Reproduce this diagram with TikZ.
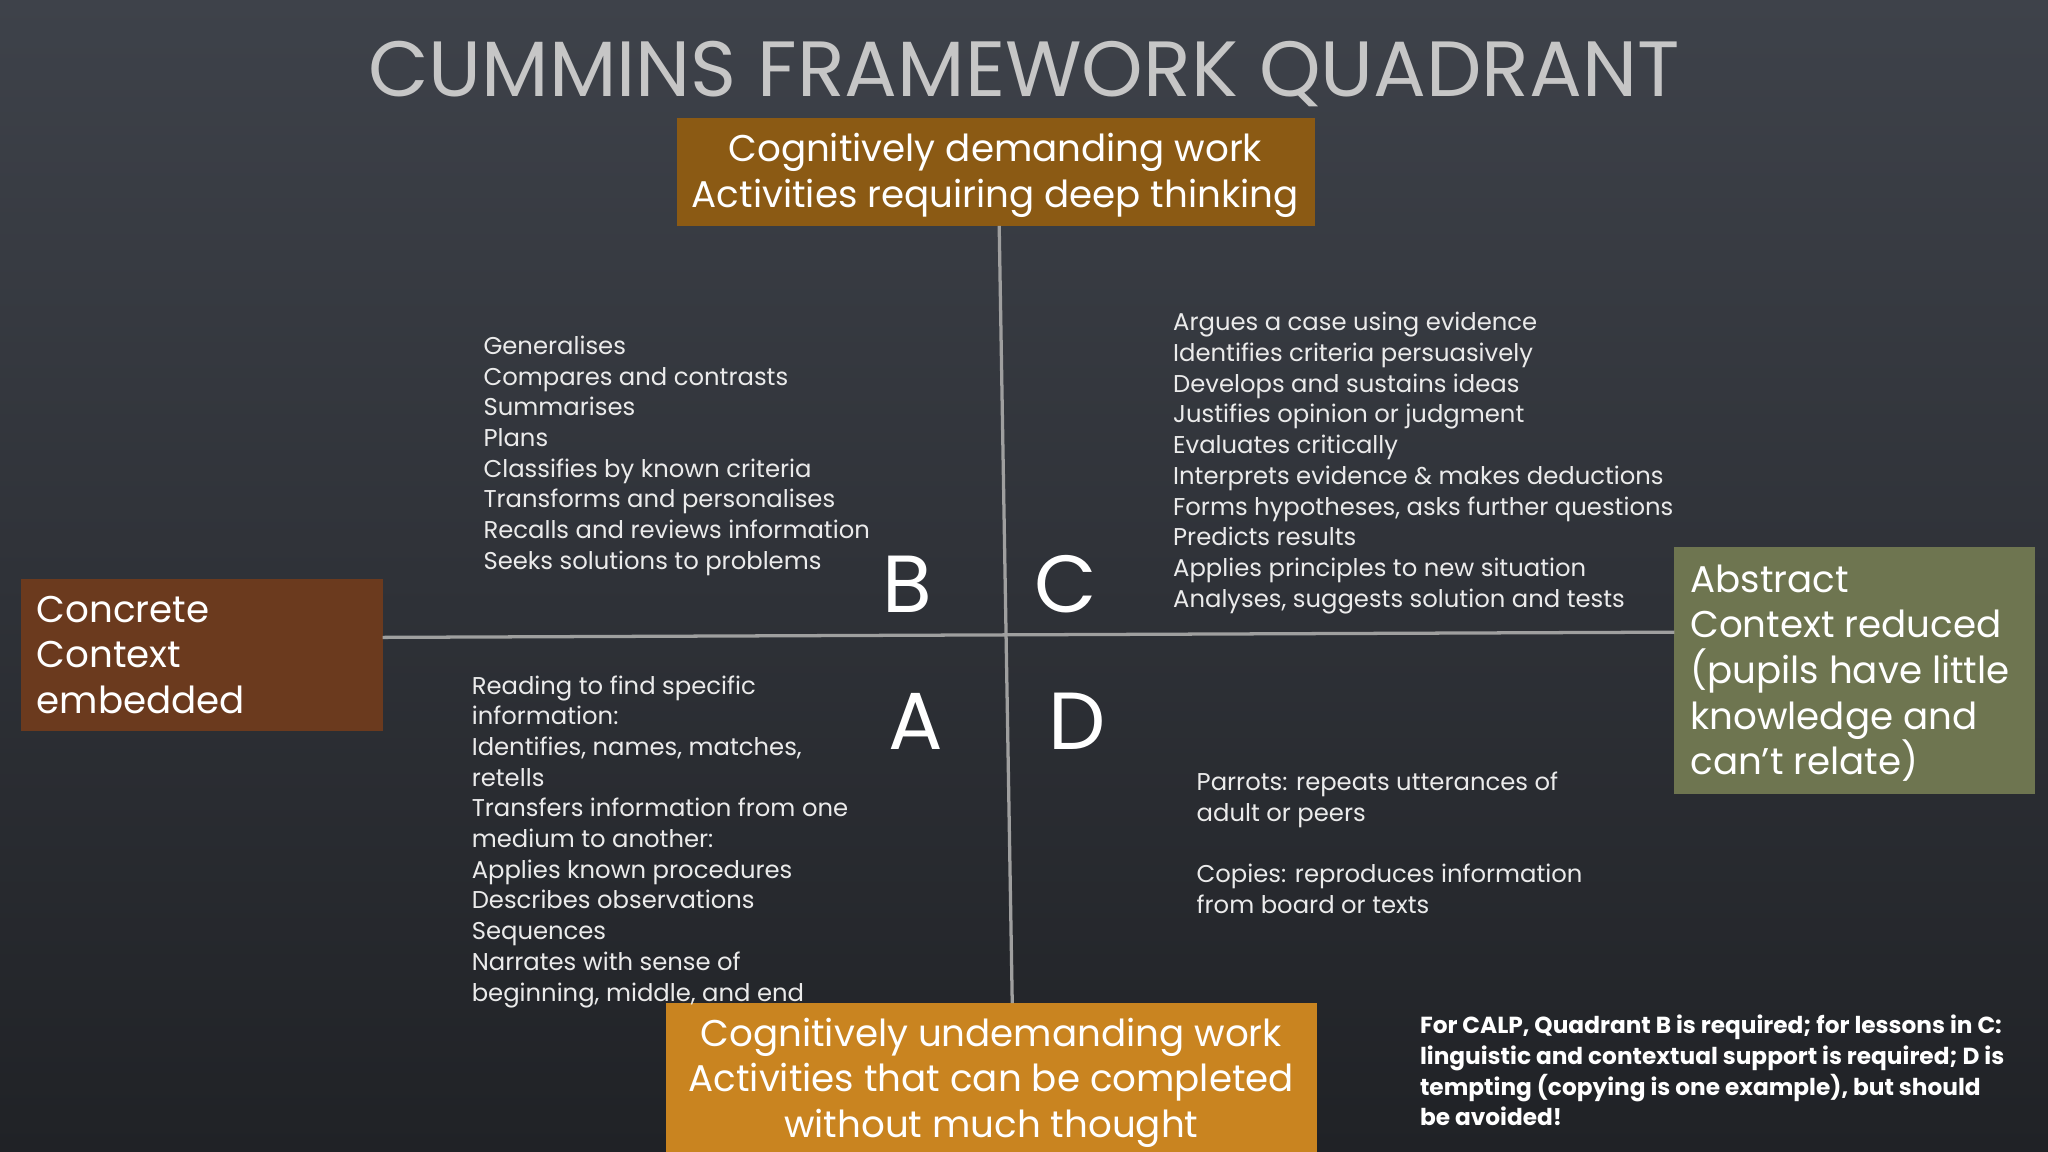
\documentclass[tikz,border=0pt]{standalone}
\usepackage{fontspec}
\setmainfont{Poppins}
\begin{document}
\begin{tikzpicture}[x=1pt,y=-1pt,
  lst/.style={anchor=north west,inner sep=0pt,align=left,text=white!92!black,font=\fontsize{18.6}{23.5}\selectfont},
  box/.style={anchor=north west,inner sep=0pt,text=white,font=\fontsize{28.5}{35}\selectfont},
  big/.style={text=white,font=\fontsize{62}{62}\selectfont},
  axis/.style={draw=gray!75,line width=2.5pt}]
\shade[top color={rgb,255:red,62;green,66;blue,74},bottom color={rgb,255:red,32;green,34;blue,38}] (0,0) rectangle (1568,882);
\useasboundingbox (0,0) rectangle (1568,882);
\node[text=gray!45,font=\fontsize{60}{60}\selectfont] (title) at (784,57) {CUMMINS FRAMEWORK QUADRANT};
% boxes
\fill[color={rgb,255:red,139;green,90;blue,20}] (518,90) rectangle (1007,173);
\node[align=center,text=white,font=\fontsize{28.5}{35}\selectfont] (top) at (762,134) {Cognitively demanding work\\Activities requiring deep thinking};
\fill[color={rgb,255:red,201;green,132;blue,32}] (510,768) rectangle (1008,882);
\node[align=center,text=white,font=\fontsize{28.5}{35}\selectfont] (bot) at (759,829) {Cognitively undemanding work\\Activities that can be completed\\without much thought};
\fill[color={rgb,255:red,107;green,58;blue,30}] (16,443) rectangle (293,560);
\node[box,align=left] (left) at (28,456) {Concrete\\Context\\embedded};
\fill[color={rgb,255:red,110;green,117;blue,80}] (1282,419) rectangle (1558,608);
\node[box,align=left] (right) at (1294,432) {Abstract\\Context reduced\\(pupils have little\\knowledge and\\can’t relate)};
% axes
\coordinate (vt) at (765,173); \coordinate (vb) at (775,768);
\coordinate (hl) at (293,488); \coordinate (hr) at (1282,484);
\draw[axis] (vt) -- (vb);
\draw[axis] (hl) -- (hr);
\node[big] (B) at (695,447) {B};
\node[big] (C) at (816,447) {C};
\node[big] (A) at (701,552) {A};
\node[big] (D) at (825,552) {D};
\node[lst] (lb) at (370,257) {Generalises\\Compares and contrasts\\Summarises\\Plans\\Classifies by known criteria\\Transforms and personalises\\Recalls and reviews information\\Seeks solutions to problems};
\node[lst] (lc) at (898,239) {Argues a case using evidence\\Identifies criteria persuasively\\Develops and sustains ideas\\Justifies opinion or judgment\\Evaluates critically\\Interprets evidence \& makes deductions\\Forms hypotheses, asks further questions\\Predicts results\\Applies principles to new situation\\Analyses, suggests solution and tests};
\node[lst] (la) at (361,517) {Reading to find specific\\information:\\Identifies, names, matches,\\retells\\Transfers information from one\\medium to another:\\Applies known procedures\\Describes observations\\Sequences\\Narrates with sense of\\beginning, middle, and end};
\node[lst] (ld) at (916,591) {Parrots: repeats utterances of\\adult or peers\\[23.5pt]Copies: reproduces information\\from board or texts};
\node[anchor=north west,inner sep=0pt,align=left,text=white,font=\fontsize{17.8}{23.5}\bfseries\selectfont] (note) at (1087,777) {For CALP, Quadrant B is required; for lessons in C:\\linguistic and contextual support is required; D is\\tempting (copying is one example), but should\\be avoided!};
\end{tikzpicture}
\end{document}
